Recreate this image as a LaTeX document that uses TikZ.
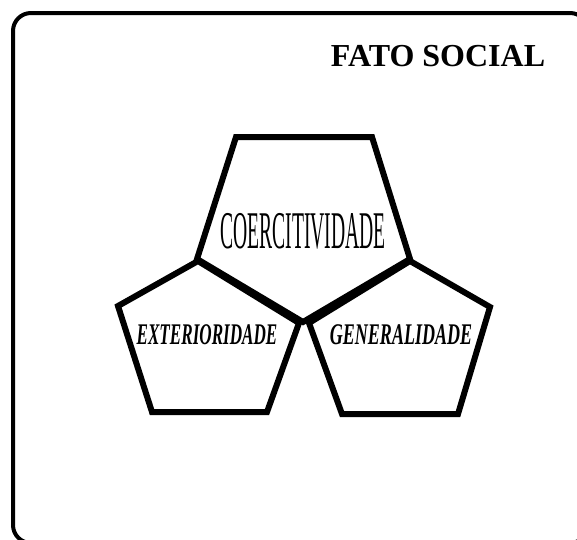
\documentclass[tikz,border=0pt]{standalone}
\usepackage{fontspec}
\usepackage{graphicx}
\setmainfont{Liberation Serif}
\tikzset{
  pent/.style={draw=black, line width=6pt, line join=miter, fill=white},
  frame/.style={draw=black, line width=4pt, rounded corners=18pt},
  lbl/.style={inner sep=0pt, text=black}
}
\begin{document}
\begin{tikzpicture}[x=1pt,y=-1pt]
\useasboundingbox (0,0) rectangle (577,539);
\begin{scope}
\clip (0,0) rectangle (577,539);
\draw[frame] (13,13) rectangle (588,543);
\end{scope}
% top pentagon
\coordinate (ctl) at (236,137);
\coordinate (ctr) at (372,137);
\coordinate (cr) at (410,259);
\coordinate (cb) at (303,322);
\coordinate (cl) at (197,259);
% left pentagon
\coordinate (et) at (198,261);
\coordinate (er) at (299,323);
\coordinate (ebr) at (267,412);
\coordinate (ebl) at (152,412);
\coordinate (el) at (118,306);
% right pentagon
\coordinate (gt) at (410,261);
\coordinate (gr) at (490,307);
\coordinate (gbr) at (458,414);
\coordinate (gbl) at (342,414);
\coordinate (gl) at (309,323);
\draw[pent] (ctl) -- (ctr) -- (cr) -- (cb) -- (cl) -- cycle;
\draw[pent] (et) -- (er) -- (ebr) -- (ebl) -- (el) -- cycle;
\draw[pent] (gt) -- (gr) -- (gbr) -- (gbl) -- (gl) -- cycle;
\node[lbl] (fato) at (438,56) {\fontsize{32}{34}\selectfont\bfseries FATO SOCIAL};
\node[lbl] (coer) at (303,231) {\scalebox{0.37}[1]{\fontsize{53}{56}\selectfont COERCITIVIDADE}};
\node[lbl] (ext) at (207,335) {\scalebox{0.57}[1]{\fontsize{30}{32}\selectfont\bfseries\itshape EXTERIORIDADE}};
\node[lbl] (gen) at (401,335) {\scalebox{0.6}[1]{\fontsize{30}{32}\selectfont\bfseries\itshape GENERALIDADE}};
\end{tikzpicture}
\end{document}
